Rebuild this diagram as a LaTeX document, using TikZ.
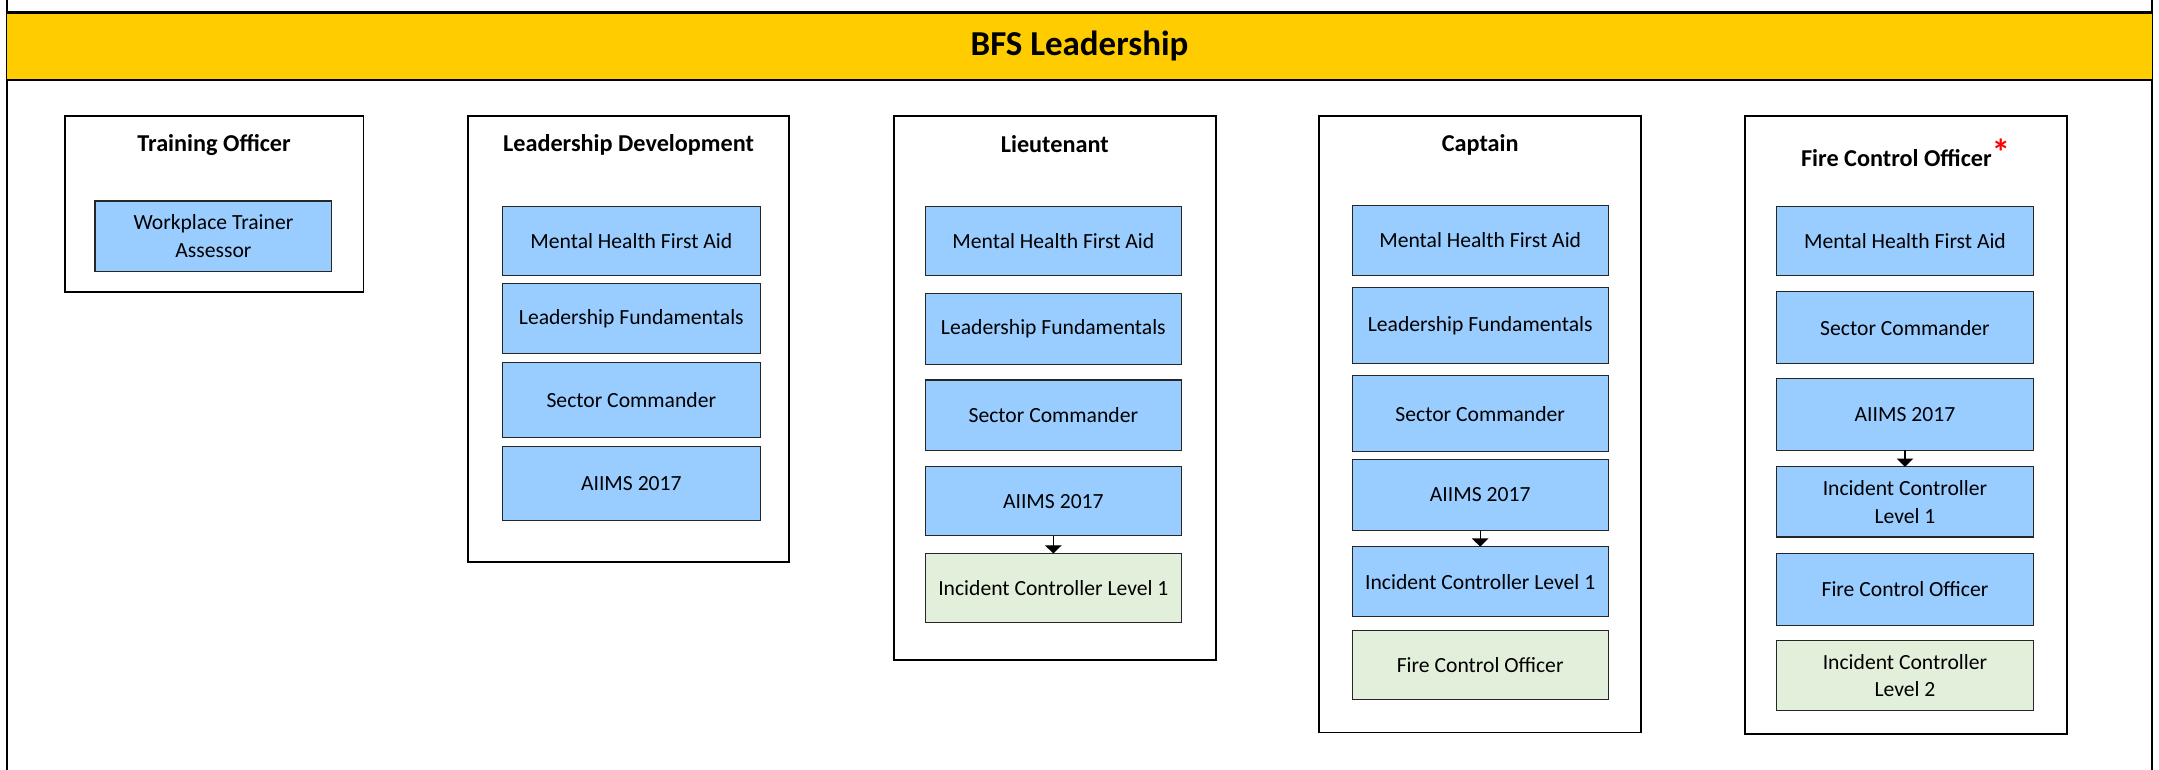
\documentclass[tikz,border=0pt]{standalone}
\usepackage{fontspec}
\setmainfont{Carlito}
\usetikzlibrary{arrows.meta}
\definecolor{bandY}{HTML}{FFCC00}
\definecolor{blueF}{HTML}{99CCFF}
\definecolor{greenF}{HTML}{E2EFDA}
\newcommand\mkbox[7]{\node[#6, minimum width={(#4-#2)*1pt}, minimum height={(#5-#3)*1pt}] (#1) at ({(#2+#4)/2},{(#3+#5)/2}) {#7};}
\tikzset{
  grp/.style={draw, line width=1.4pt, fill=white, inner sep=0pt, outer sep=0pt},
  crs/.style={draw=black!85, line width=0.8pt, fill=blueF, inner sep=0pt, outer sep=0pt, align=center, font=\fontsize{15.7}{20}\selectfont},
  crsg/.style={crs, fill=greenF},
  ttl/.style={font=\fontsize{17.6}{20}\selectfont\bfseries, inner sep=0pt},
  arr/.style={-{Triangle[width=12pt,length=6pt]}, line width=1pt},
  bandbox/.style={fill=bandY, inner sep=0pt, outer sep=0pt, font=\fontsize{25.4}{28}\selectfont\bfseries}
}
\begin{document}
\begin{tikzpicture}[x=1pt,y=-1pt]
\useasboundingbox (0,0) rectangle (1568,559);
% frame
\coordinate (fl1) at (5,0); \coordinate (fl2) at (5,559);
\coordinate (fr1) at (1563,0); \coordinate (fr2) at (1563,559);
\draw[line width=1.4pt] (fl1) -- (fl2);
\draw[line width=1.4pt] (fr1) -- (fr2);
% band
\mkbox{band}{5}{9}{1563}{58}{bandbox}{BFS Leadership}
\draw[line width=1.8pt] (band.north west) -- (band.north east);
\draw[line width=1.8pt] (band.south west) -- (band.south east);
% Training Officer
\mkbox{TO}{47}{84}{264}{212}{grp}{}
\node[ttl] (TOt) at (155.5,105) {Training Officer};
\mkbox{TOw}{69}{146}{241}{197}{crs}{Workplace Trainer\\Assessor}
% Leadership Development
\mkbox{LD}{340}{84}{573}{408}{grp}{}
\node[ttl] (LDt) at (456.5,105) {Leadership Development};
\mkbox{LDm}{365}{150}{552}{200}{crs}{Mental Health First Aid}
\mkbox{LDl}{365}{206}{552}{257}{crs}{Leadership Fundamentals}
\mkbox{LDs}{365}{263}{552}{318}{crs}{Sector Commander}
\mkbox{LDa}{365}{324}{552}{378}{crs}{AIIMS 2017}
% Lieutenant
\mkbox{LT}{649}{84}{883}{479}{grp}{}
\node[ttl] (LTt) at (766,105) {Lieutenant};
\mkbox{LTm}{672}{150}{858}{200}{crs}{Mental Health First Aid}
\mkbox{LTl}{672}{213}{858}{265}{crs}{Leadership Fundamentals}
\mkbox{LTs}{672}{276}{858}{327}{crs}{Sector Commander}
\mkbox{LTa}{672}{339}{858}{389}{crs}{AIIMS 2017}
\mkbox{LTi}{672}{402}{858}{452}{crsg}{Incident Controller Level 1}
\draw[arr] (LTa.south) -- (LTi.north);
% Captain
\mkbox{CP}{958}{84}{1192}{532}{grp}{}
\node[ttl] (CPt) at (1075,105) {Captain};
\mkbox{CPm}{982}{149}{1168}{200}{crs}{Mental Health First Aid}
\mkbox{CPl}{982}{209}{1168}{264}{crs}{Leadership Fundamentals}
\mkbox{CPs}{982}{273}{1168}{328}{crs}{Sector Commander}
\mkbox{CPa}{982}{334}{1168}{385}{crs}{AIIMS 2017}
\mkbox{CPi}{982}{397}{1168}{448}{crs}{Incident Controller Level 1}
\mkbox{CPf}{982}{458}{1168}{508}{crsg}{Fire Control Officer}
\draw[arr] (CPa.south) -- (CPi.north);
% Fire Control Officer
\mkbox{FC}{1267}{84}{1501}{533}{grp}{}
\node[ttl] (FCt) at (1384,111) {Fire Control Officer\textcolor{red}{\raisebox{0.05em}{\fontsize{27}{27}\selectfont *}}};
\mkbox{FCm}{1290}{150}{1477}{200}{crs}{Mental Health First Aid}
\mkbox{FCs}{1290}{212}{1477}{264}{crs}{Sector Commander}
\mkbox{FCa}{1290}{275}{1477}{327}{crs}{AIIMS 2017}
\mkbox{FCi}{1290}{339}{1477}{390}{crs}{Incident Controller\\Level 1}
\mkbox{FCf}{1290}{402}{1477}{454}{crs}{Fire Control Officer}
\mkbox{FCl}{1290}{465}{1477}{516}{crsg}{Incident Controller\\Level 2}
\draw[arr] (FCa.south) -- (FCi.north);
\end{tikzpicture}
\end{document}
